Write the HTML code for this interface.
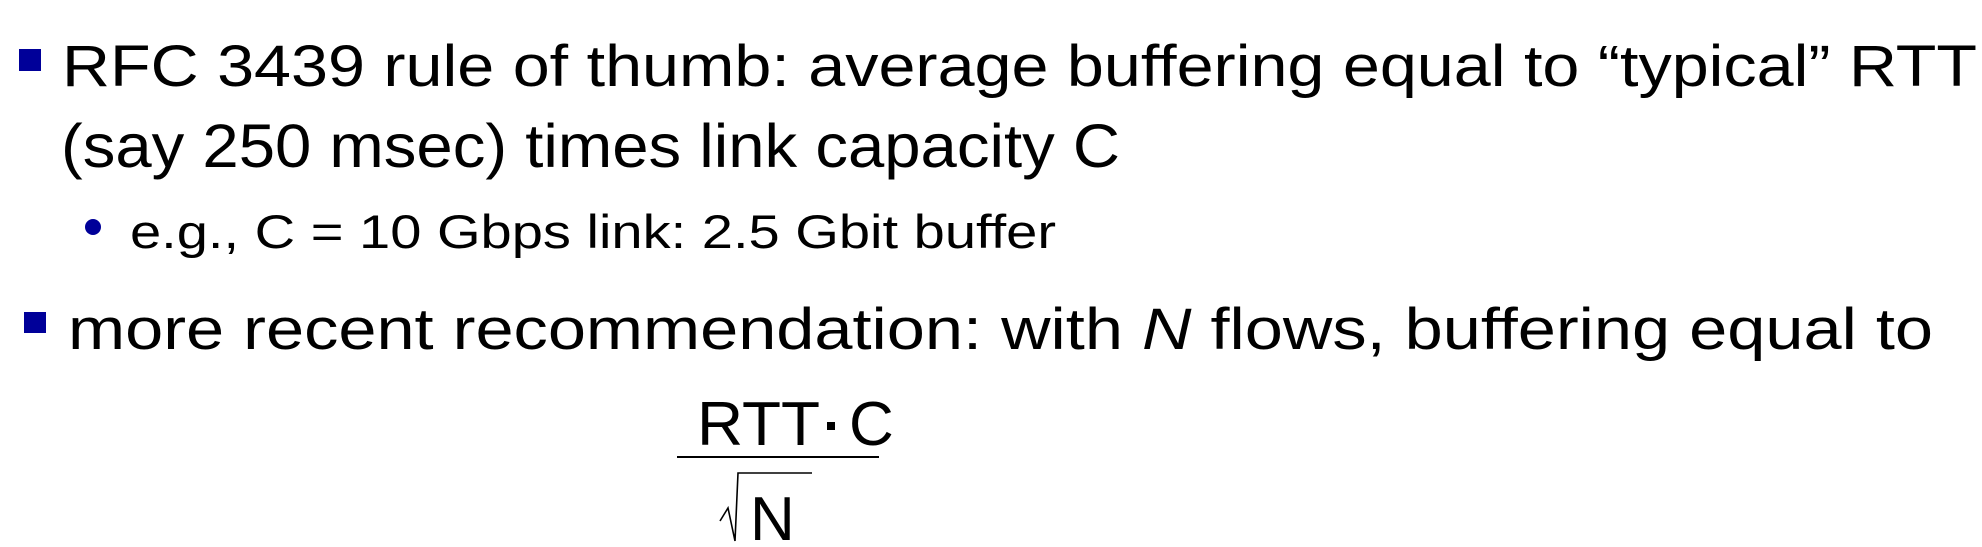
<!DOCTYPE html>
<html><head><meta charset="utf-8"><style>
html,body{margin:0;padding:0;background:#fff;}
svg{display:block;}
text{font-family:"Liberation Sans",sans-serif;fill:#000;}
</style></head><body>
<svg width="1982" height="547" viewBox="0 0 1982 547" xmlns="http://www.w3.org/2000/svg">
<rect x="19" y="49" width="22" height="22" fill="#000099"/>
<text x="62" y="86" font-size="58" textLength="1915" lengthAdjust="spacingAndGlyphs">RFC 3439 rule of thumb: average buffering equal to “typical” RTT</text>
<text x="61" y="167" font-size="61" textLength="1059" lengthAdjust="spacingAndGlyphs">(say 250 msec) times link capacity C</text>
<circle cx="93" cy="227" r="8" fill="#000099"/>
<text x="130" y="248" font-size="47" textLength="926" lengthAdjust="spacingAndGlyphs">e.g., C = 10 Gbps link: 2.5 Gbit buffer</text>
<rect x="24" y="312" width="22" height="21" fill="#000099"/>
<text x="68" y="349" font-size="58" textLength="1865" lengthAdjust="spacingAndGlyphs">more recent recommendation: with <tspan font-style="italic">N</tspan> flows, buffering equal to</text>
<text x="697" y="445" font-size="62" textLength="123" lengthAdjust="spacingAndGlyphs">RTT</text>
<rect x="827" y="422" width="8" height="8" fill="#000"/>
<text x="849" y="445" font-size="62">C</text>
<line x1="677" y1="457" x2="879" y2="457" stroke="#000" stroke-width="2"/>
<polyline points="720,521 728,508 735,541 738,473 812,473" fill="none" stroke="#000" stroke-width="1.6"/>
<text x="750" y="540" font-size="62">N</text>
</svg>
</body></html>
